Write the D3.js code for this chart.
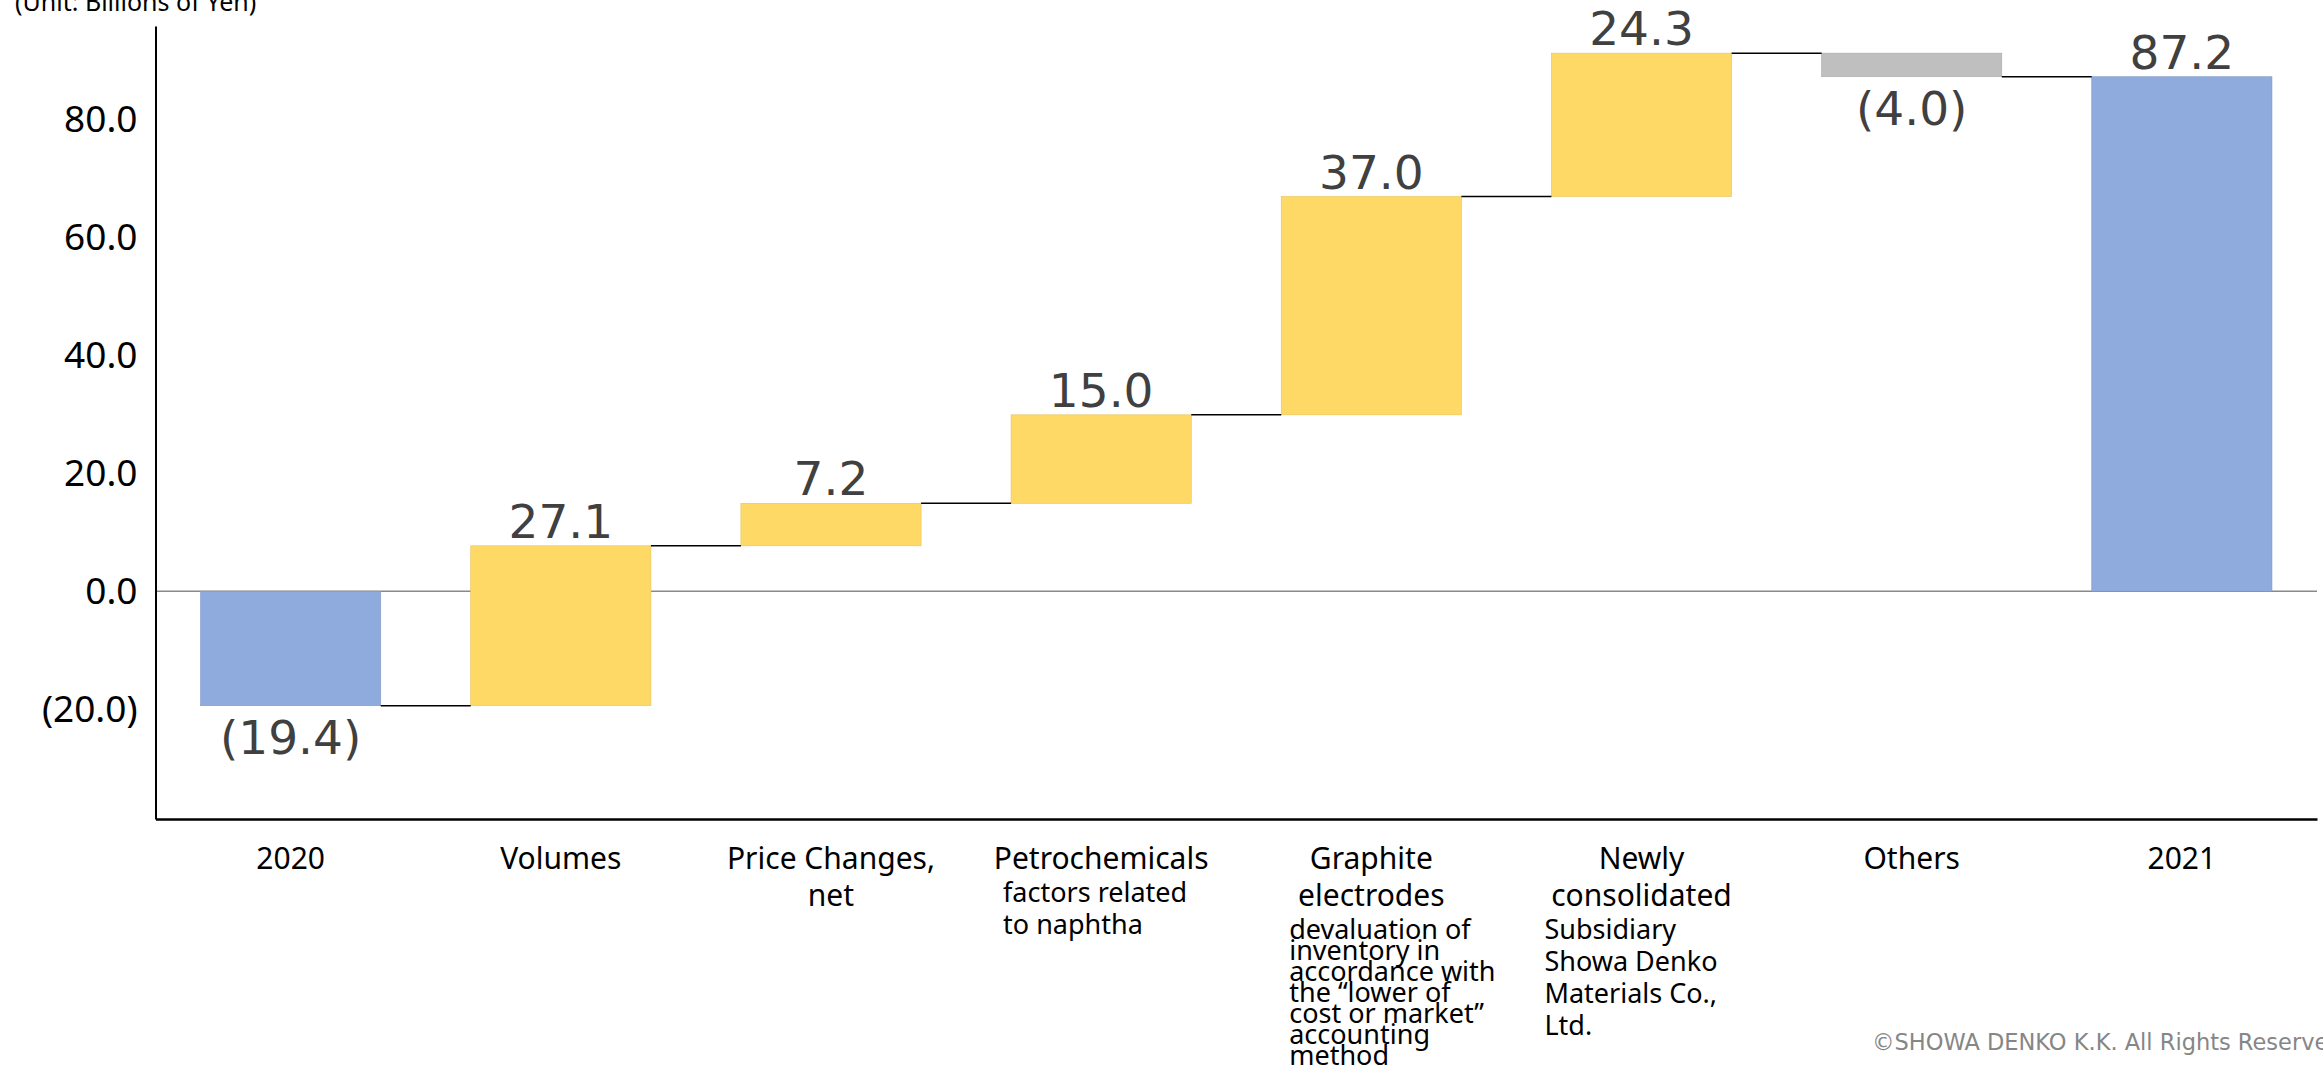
<!DOCTYPE html>
<html>
<head>
<meta charset="utf-8">
<script src="https://cdn.jsdelivr.net/npm/d3@7"></script>
<style>
  body { margin: 0; background: #fff; }
  svg { display: block; }
</style>
</head>
<body>
<div id="chart"></div>
<script>
// chart data
const categories = ['2020', 'Volumes', 'Price Changes, net', 'Petrochemicals',
  'Graphite electrodes', 'Newly consolidated', 'Others', '2021'];
const values = [-19.4, 27.1, 7.2, 15.0, 37.0, 24.3, -4.0, 87.2];
const kinds = ['total', 'up', 'up', 'up', 'up', 'up', 'down', 'total'];
const tickValues = [-20, 0, 20, 40, 60, 80];

// category label text (centered lines, then left aligned notes)
const mainLines = [['2020'], ['Volumes'], ['Price Changes,', 'net'], ['Petrochemicals'],
  ['Graphite', 'electrodes'], ['Newly', 'consolidated'], ['Others'], ['2021']];
const noteLines = [[], [], [], ['factors related', 'to naphtha'],
  ['devaluation of', 'inventory in', 'accordance with', 'the \u201clower of',
    'cost or market\u201d', 'accounting', 'method'],
  ['Subsidiary', 'Showa Denko', 'Materials Co.,', 'Ltd.'], [], []];

const width = 2323, height = 1068;
const colors = { total: '#8faadc', up: '#ffd966', down: '#bfbfbf' };

const svg = d3.select('#chart')
  .append('svg')
  .attr('width', width)
  .attr('height', height);

const x = d3.scaleBand()
  .domain(categories)
  .range([155.5, 2317])
  .paddingInner(0.333)
  .paddingOuter(0.1667);

const y = d3.scaleLinear()
  .domain([-38.6, 95.8])
  .range([819, 26]);

// waterfall steps
let cum = 0;
const steps = values.map((v, i) => {
  let start, end;
  if (kinds[i] === 'total') { start = 0; end = v; }
  else { start = cum; end = cum + v; }
  cum = end;
  return { cat: categories[i], value: v, kind: kinds[i], start: start, end: end };
});

// zero line
svg.append('line')
  .attr('x1', 155.5).attr('x2', 2317)
  .attr('y1', y(0)).attr('y2', y(0))
  .attr('stroke', '#898989')
  .attr('stroke-width', 1.5);

// bars
svg.selectAll('rect.bar')
  .data(steps)
  .enter()
  .append('rect')
  .attr('class', 'bar')
  .attr('x', d => x(d.cat))
  .attr('width', x.bandwidth())
  .attr('y', d => y(Math.max(d.start, d.end)))
  .attr('height', d => Math.abs(y(d.start) - y(d.end)))
  .attr('fill', d => colors[d.kind])
  .attr('stroke', d => d3.color(colors[d.kind]).darker(0.3))
  .attr('stroke-width', 0.6);

// connectors
svg.selectAll('line.conn')
  .data(steps.slice(0, -1))
  .enter()
  .append('line')
  .attr('class', 'conn')
  .attr('x1', d => x(d.cat) + x.bandwidth())
  .attr('x2', (d, i) => x(categories[i + 1]))
  .attr('y1', d => y(d.end))
  .attr('y2', d => y(d.end))
  .attr('stroke', '#000')
  .attr('stroke-width', 1.5);

// value labels
const fmtVal = v => v < 0 ? '(' + Math.abs(v).toFixed(1) + ')' : v.toFixed(1);
svg.selectAll('text.val')
  .data(steps)
  .enter()
  .append('text')
  .attr('class', 'val')
  .attr('x', d => x(d.cat) + x.bandwidth() / 2)
  .attr('y', d => d.value < 0 ? y(Math.min(d.start, d.end)) + 48 : y(Math.max(d.start, d.end)) - 8)
  .attr('text-anchor', 'middle')
  .attr('font-family', 'DejaVu Sans, sans-serif')
  .attr('font-size', '47px')
  .attr('fill', '#404040')
  .text(d => fmtVal(d.value));

// y axis
const yAxis = svg.append('g')
  .attr('transform', 'translate(155.5,0)')
  .call(d3.axisLeft(y)
    .tickValues(tickValues)
    .tickSize(0)
    .tickSizeOuter(0)
    .tickPadding(18)
    .tickFormat(fmtVal));
yAxis.select('.domain').attr('stroke', '#000').attr('stroke-width', 2);
yAxis.selectAll('text')
  .attr('font-family', 'Noto Sans, sans-serif')
  .attr('font-size', '37px')
  .attr('fill', '#000');

// x axis
const xAxis = svg.append('g')
  .attr('transform', 'translate(0,819)')
  .call(d3.axisBottom(x).tickSize(0).tickSizeOuter(0).tickFormat(() => ''));
xAxis.select('.domain').attr('stroke', '#000').attr('stroke-width', 2.5);

// category labels
const noteDx = { 3: -8, 4: 8, 5: -7 };
const noteGap = { 3: 32, 4: 21, 5: 32 };
categories.forEach((c, i) => {
  const cx = x(c) + x.bandwidth() / 2;
  mainLines[i].forEach((t, j) => {
    svg.append('text')
      .attr('x', cx)
      .attr('y', 869 + j * 36.5)
      .attr('text-anchor', 'middle')
      .attr('font-family', 'Noto Sans, sans-serif')
      .attr('font-size', '30px')
      .attr('fill', '#000')
      .text(t);
  });
  const base = 869 + (mainLines[i].length - 1) * 36.5 + 33;
  noteLines[i].forEach((t, j) => {
    svg.append('text')
      .attr('x', x(c) + (noteDx[i] || 0))
      .attr('y', base + j * noteGap[i])
      .attr('font-family', 'Noto Sans, sans-serif')
      .attr('font-size', '27px')
      .attr('fill', '#000')
      .text(t);
  });
});

// unit label
svg.append('text')
  .attr('x', 15)
  .attr('y', 11)
  .attr('font-family', 'Noto Sans, sans-serif')
  .attr('font-size', '25px')
  .attr('fill', '#000')
  .text('(Unit: Billions of Yen)');

// copyright
svg.append('text')
  .attr('x', 1872)
  .attr('y', 1050)
  .attr('font-family', 'DejaVu Sans, sans-serif')
  .attr('font-size', '22.5px')
  .attr('fill', '#868686')
  .text('\u00a9SHOWA DENKO K.K. All Rights Reserved');
</script>
</body>
</html>
